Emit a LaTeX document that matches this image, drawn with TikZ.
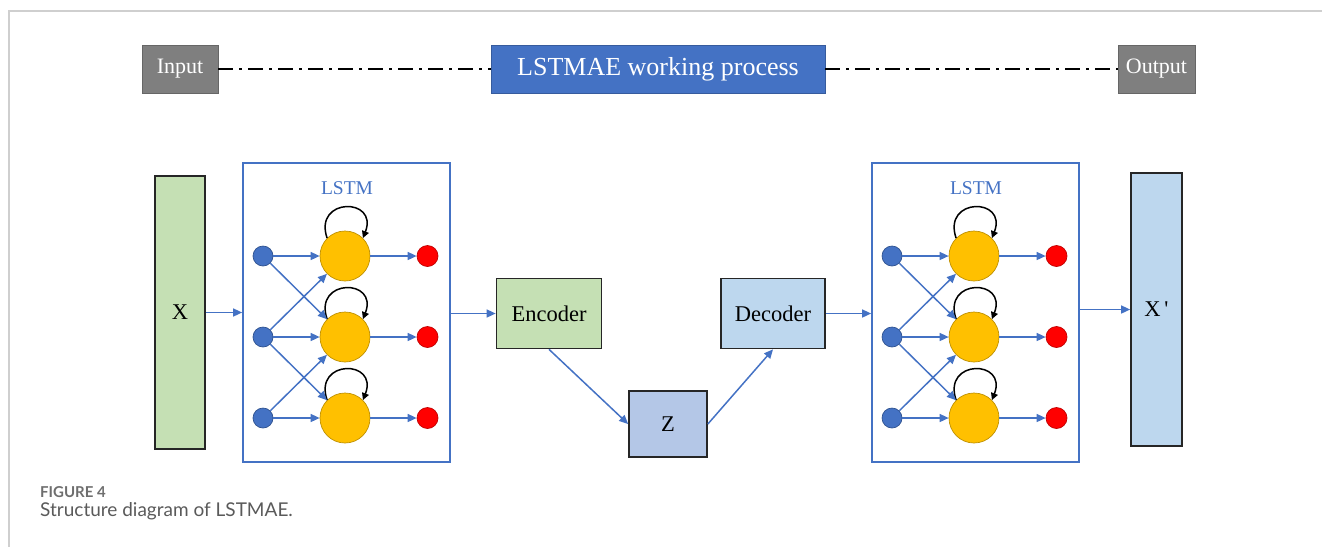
\documentclass[tikz,border=0pt]{standalone}
\usepackage{fontspec}
\setmainfont{Liberation Serif}
\newfontfamily\capfont{Lato}
\usetikzlibrary{arrows.meta}
\definecolor{gbox}{HTML}{7F7F7F}
\definecolor{mblue}{HTML}{4472C4}
\definecolor{dblue}{HTML}{2F528F}
\definecolor{lgreen}{HTML}{C5E0B4}
\definecolor{lblue}{HTML}{BDD7EE}
\definecolor{zblue}{HTML}{B4C7E7}
\definecolor{yel}{HTML}{FFC000}
\definecolor{dyel}{HTML}{BF9000}
\definecolor{mred}{HTML}{FF0000}
\definecolor{dred}{HTML}{C00000}
\definecolor{framegray}{HTML}{CFCFCF}
\definecolor{captxt}{HTML}{5A5A5A}
\definecolor{capfig}{HTML}{6E6E6E}
\newcommand\lstmblk[2]{%
  \node[lstmbox] (#1box) at (#2,312.5) {};
  \node[lstmlbl] (#1lbl) at (#2+0.5,188) {LSTM};
  \foreach \r/\yy in {1/256,2/337,3/418}{
    \node[incirc] (#1b\r) at (#2-83.5,\yy) {};
    \node[yelcirc] (#1y\r) at (#2-1.5,\yy) {};
    \node[outcirc] (#1r\r) at (#2+81,\yy) {};
  }
  \foreach \r in {1,2,3}{
    \draw[arr] (#1b\r) -- (#1y\r);
    \draw[arr] (#1y\r) -- (#1r\r);
    \draw[loopar] (#1y\r.135) .. controls +(-14,-41) and +(16,-41) .. (#1y\r.45);
  }
  \draw[arr] (#1b1) -- (#1y2);
  \draw[arr] (#1b2) -- (#1y1);
  \draw[arr] (#1b2) -- (#1y3);
  \draw[arr] (#1b3) -- (#1y2);
}
\begin{document}
\begin{tikzpicture}[x=1pt,y=-1pt,
  graybox/.style={fill=gbox,draw=gbox!80!black,line width=0.6pt,inner sep=0pt,text=white,font=\fontsize{22}{24}\selectfont},
  titlebox/.style={fill=mblue,draw=mblue!80!black,line width=0.6pt,inner sep=0pt,text=white,minimum width=334pt,minimum height=48pt,font=\fontsize{26}{28}\selectfont},
  blk/.style={draw=black!85,line width=1.7pt,inner sep=0pt,font=\fontsize{22.5}{24}\selectfont},
  lstmbox/.style={draw=mblue,line width=1.7pt,minimum width=207pt,minimum height=299pt,inner sep=0pt},
  lstmlbl/.style={text=mblue,font=\fontsize{19.5}{21}\selectfont,inner sep=0pt},
  incirc/.style={circle,fill=mblue,draw=dblue,line width=0.7pt,minimum size=20pt,inner sep=0pt},
  yelcirc/.style={circle,fill=yel,draw=dyel,line width=0.7pt,minimum size=50pt,inner sep=0pt},
  outcirc/.style={circle,fill=mred,draw=dred,line width=0.7pt,minimum size=21pt,inner sep=0pt},
  arr/.style={draw=mblue,line width=1.5pt,-{Triangle[length=9pt,width=8pt]}},
  loopar/.style={draw=black,line width=1.5pt,-{Triangle[length=7pt,width=7pt]}},
  dashdot/.style={draw=black,line width=1.9pt,dash pattern=on 15pt off 6pt on 3pt off 6pt}
]
\useasboundingbox (0,0) rectangle (1322,547);
\draw[framegray,line width=1.2pt] (1322,11) -- (9,11) -- (9,547);

% header
\node[graybox,minimum width=76pt,minimum height=48pt] (inp) at (180,69) {Input};
\node[titlebox] (title) at (658,69) {LSTMAE working process};
\node[graybox,minimum width=77pt,minimum height=48pt] (outp) at (1156.5,69) {Output};
\draw[dashdot] (inp.east) -- (title.west);
\draw[dashdot] (title.east) -- (outp.west);

% blocks
\node[blk,fill=lgreen,minimum width=50pt,minimum height=273pt] (X) at (180,312.5) {X};
\node[blk,fill=lgreen,minimum width=105pt,minimum height=70pt] (enc) at (549,313.5) {Encoder};
\node[blk,fill=zblue,minimum width=78pt,minimum height=66pt] (Z) at (668,424) {Z};
\node[blk,fill=lblue,minimum width=104pt,minimum height=70pt] (dec) at (773,313.5) {Decoder};
\node[blk,fill=lblue,minimum width=51pt,minimum height=273pt] (Xp) at (1156.5,309.5) {X\,\textquotesingle};

\lstmblk{L}{346.5}
\lstmblk{R}{975.5}

\draw[arr] (X.east) -- (Lbox.west |- X.east);
\draw[arr] (Lbox.east |- enc.west) -- (enc.west);
\draw[arr] (enc.south) -- (Z.west);
\draw[arr] (Z.east) -- (dec.south);
\draw[arr] (dec.east) -- (Rbox.west |- dec.east);
\draw[arr] (Rbox.east |- Xp.west) -- (Xp.west);

% caption
\node[anchor=base west,inner sep=0pt,text=capfig,font=\capfont\bfseries\fontsize{15}{17}\selectfont] (cap1) at (40,497) {FIGURE 4};
\node[anchor=base west,inner sep=0pt,text=captxt,font=\capfont\fontsize{19}{21}\selectfont] (cap2) at (40,516) {Structure diagram of LSTMAE.};
\end{tikzpicture}
\end{document}
